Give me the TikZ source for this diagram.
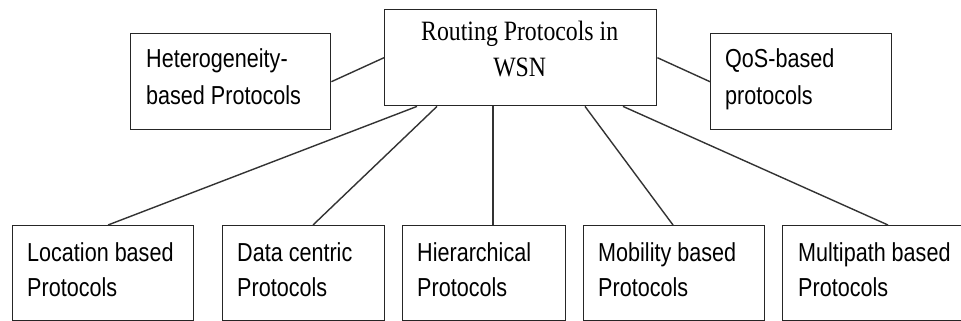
\documentclass[tikz,border=0pt]{standalone}
\usepackage{fontspec}
\usetikzlibrary{calc}
\newfontfamily\boxsans[FakeStretch=0.83]{Liberation Sans}
\newfontfamily\boxserif[FakeStretch=0.85]{Liberation Serif}
\tikzset{
  box/.style={draw=black!85, line width=1.4pt, fill=white, inner sep=0pt, anchor=north west},
  link/.style={draw=black!80, line width=1.4pt},
  toplbl/.style={inner sep=0pt, anchor=north west, align=left, font=\boxsans\fontsize{26}{37.5}\selectfont},
  botlbl/.style={inner sep=0pt, anchor=north west, align=left, font=\boxsans\fontsize{26}{35}\selectfont},
  rootlbl/.style={inner sep=0pt, anchor=north, align=center, font=\boxserif\fontsize{28}{36}\selectfont}
}
\begin{document}
\begin{tikzpicture}[x=1pt, y=-1pt]
  \useasboundingbox (0,0) rectangle (961,321);
  \clip (0,0) rectangle (961,321);
  \fill[white] (0,0) rectangle (961,321);

  % root and side categories
  \node[box, minimum width=272, minimum height=96] (root) at (384,9) {};
  \node[box, minimum width=200, minimum height=96] (het) at (130,33) {};
  \node[box, minimum width=181, minimum height=96] (qos) at (710,33) {};

  % leaf categories
  \node[box, minimum width=181, minimum height=95] (loc) at (12,225) {};
  \node[box, minimum width=162, minimum height=95] (dat) at (222,225) {};
  \node[box, minimum width=163, minimum height=95] (hie) at (402,225) {};
  \node[box, minimum width=181, minimum height=95] (mob) at (583,225) {};
  \node[box, minimum width=200, minimum height=95] (mul) at (782,225) {};

  % connectors
  \draw[link] (root.west) -- (het.east);
  \draw[link] (root.east) -- (qos.west);
  \draw[link] ($(root.south west)+(33,0)$) -- ($(loc.north west)+(96,0)$);
  \draw[link] ($(root.south west)+(53,0)$) -- ($(dat.north west)+(91,0)$);
  \draw[link] ($(root.south west)+(109,0)$) -- ($(hie.north west)+(91,0)$);
  \draw[link] ($(root.south west)+(201,0)$) -- ($(mob.north west)+(90,0)$);
  \draw[link] ($(root.south west)+(239,0)$) -- ($(mul.north west)+(106,0)$);

  % labels
  \node[rootlbl] (rootT) at ($(root.north)+(-1,12)$) {Routing Protocols in\\WSN};
  \node[toplbl] (hetT) at ($(het.north west)+(16,15)$) {Heterogeneity-\\based Protocols};
  \node[toplbl] (qosT) at ($(qos.north west)+(15,15)$) {QoS-based\\protocols};
  \node[botlbl] (locT) at ($(loc.north west)+(15,17)$) {Location based\\Protocols};
  \node[botlbl] (datT) at ($(dat.north west)+(15,17)$) {Data centric\\Protocols};
  \node[botlbl] (hieT) at ($(hie.north west)+(15,17)$) {Hierarchical\\Protocols};
  \node[botlbl] (mobT) at ($(mob.north west)+(15,17)$) {Mobility based\\Protocols};
  \node[botlbl] (mulT) at ($(mul.north west)+(16,17)$) {Multipath based\\Protocols};
\end{tikzpicture}
\end{document}
